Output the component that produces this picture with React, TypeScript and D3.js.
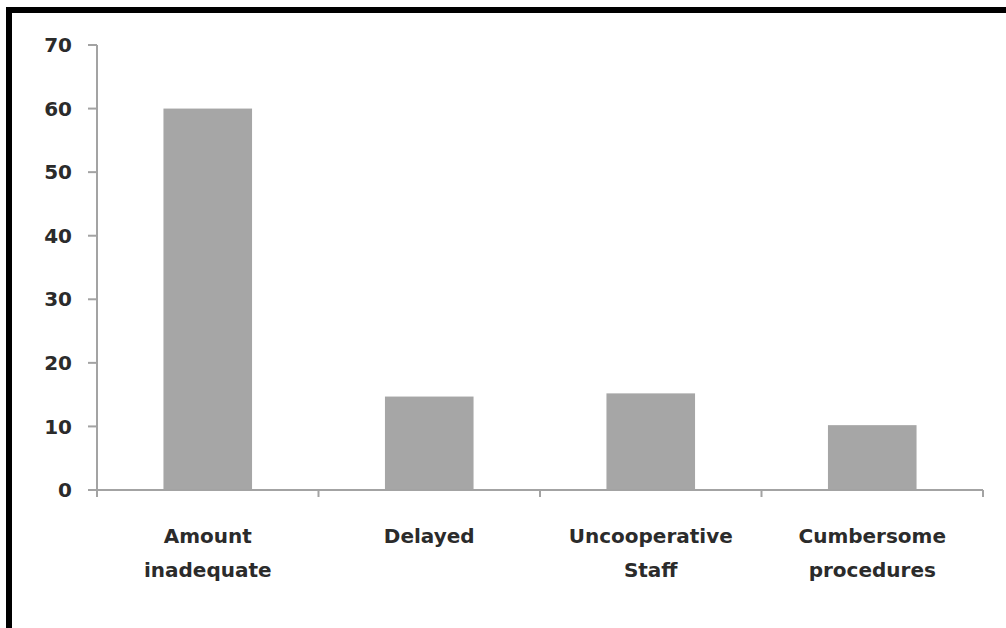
import React from "react";
import * as d3 from "d3";

// Reasons reported, percentage of respondents
const categories: string[][] = [
  ["Amount", "inadequate"],
  ["Delayed"],
  ["Uncooperative", "Staff"],
  ["Cumbersome", "procedures"],
];
const values: number[] = [60, 14.7, 15.2, 10.2];
const yTicks: number[] = [0, 10, 20, 30, 40, 50, 60, 70];

const W = 1006;
const H = 628;
const left = 97;
const right = 983;
const top = 45;
const bottom = 490;

const font = "'DejaVu Sans', Verdana, sans-serif";
const textColor = "#2b2b2b";
const axisColor = "#a3a3a3";
const barColor = "#a6a6a6";

export default function App() {
  const keys = categories.map((c) => c.join(" "));
  const x = d3.scaleBand<string>().domain(keys).range([left, right]).paddingInner(0.6).paddingOuter(0.3);
  const y = d3.scaleLinear().domain([0, 70]).range([bottom, top]);
  const step = (right - left) / keys.length;
  const boundaries = d3.range(keys.length + 1).map((i) => left + i * step);

  return (
    <svg
      width={W}
      height={H}
      style={{ position: "absolute", left: 0, top: 0, background: "#fff" }}
    >
      {/* frame: top and left edges */}
      <rect x={6} y={7} width={W - 6} height={6} fill="#000" />
      <rect x={6} y={7} width={6} height={H - 7} fill="#000" />

      {/* bars */}
      {keys.map((k, i) => (
        <rect
          key={k}
          x={x(k)}
          y={y(values[i])}
          width={x.bandwidth()}
          height={bottom - y(values[i])}
          fill={barColor}
        />
      ))}

      {/* y axis */}
      <line x1={left} x2={left} y1={y(70)} y2={bottom} stroke={axisColor} strokeWidth={2} />
      {yTicks.map((t) => (
        <g key={t}>
          <line x1={left - 9} x2={left} y1={y(t)} y2={y(t)} stroke={axisColor} strokeWidth={2} />
          <text
            x={72}
            y={y(t)}
            dy="0.36em"
            textAnchor="end"
            fontFamily={font}
            fontWeight={700}
            fontSize={20}
            fill={textColor}
          >
            {t}
          </text>
        </g>
      ))}

      {/* x axis */}
      <line x1={left} x2={right} y1={bottom} y2={bottom} stroke={axisColor} strokeWidth={2} />
      {boundaries.map((b, i) => (
        <line key={i} x1={b} x2={b} y1={bottom} y2={bottom + 7} stroke={axisColor} strokeWidth={2} />
      ))}
      {categories.map((lines, i) => {
        const cx = (x(keys[i]) as number) + x.bandwidth() / 2;
        return (
          <text
            key={keys[i]}
            textAnchor="middle"
            fontFamily={font}
            fontWeight={700}
            fontSize={20}
            fill={textColor}
          >
            {lines.map((l, j) => (
              <tspan key={j} x={cx} y={543 + j * 34}>
                {l}
              </tspan>
            ))}
          </text>
        );
      })}
    </svg>
  );
}
